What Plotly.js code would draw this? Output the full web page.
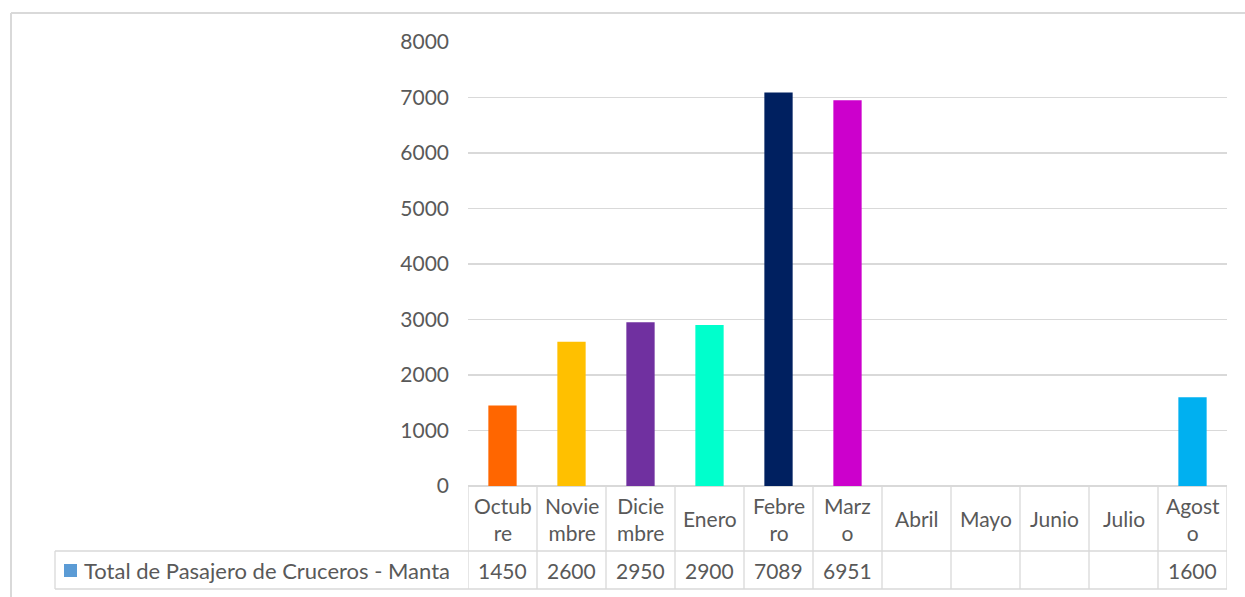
<!DOCTYPE html>
<html>
<head>
<meta charset="utf-8">
<script src="https://cdn.plot.ly/plotly-3.0.1.min.js"></script>
<style>html,body{margin:0;padding:0;background:#fff;}#chart{width:1245px;height:597px;}</style>
</head>
<body>
<div id="chart"></div>
<script>
const months = ["Octubre","Noviembre","Diciembre","Enero","Febrero","Marzo","Abril","Mayo","Junio","Julio","Agosto"];
const headerLabels = ["Octub<br>re","Novie<br>mbre","Dicie<br>mbre","Enero","Febre<br>ro","Marz<br>o","Abril","Mayo","Junio","Julio","Agost<br>o"];
const passengers = [1450, 2600, 2950, 2900, 7089, 6951, null, null, null, null, 1600];
const barColors = ["#FF6600","#FFC000","#7030A0","#00FFCC","#002060","#CC00CC","#5B9BD5","#5B9BD5","#5B9BD5","#5B9BD5","#00B0F0"];
const seriesName = "Total de Pasajero de Cruceros - Manta";
const yTicks = [0,1000,2000,3000,4000,5000,6000,7000,8000];

const FONT = "Lato, 'Open Sans', sans-serif";
const TXT = "#595959";
const LINE = "#d9d9d9";

// geometry (pixels) for the data table below plot
const L = 468, R = 18, T = 42, B = 111;
const W = 1245 - L - R, H = 597 - T - B;
const py = px => -(px - (597 - B)) / H;      // pixel y -> paper y
const pxx = px => (px - L) / W;             // pixel x -> paper x
const yHeadBot = py(551), yTabBot = py(589);
const xLegLeft = pxx(55);

const idx = months.map((m, i) => i);
const shapes = [];
// vertical column lines in the table
for (let i = 0; i <= months.length; i++) {
  shapes.push({type:"line", xref:"x", yref:"paper", x0:i-0.5, x1:i-0.5, y0:0, y1:yTabBot, line:{color:LINE, width:1.3}});
}
// horizontal table lines
shapes.push({type:"line", xref:"paper", yref:"paper", x0:xLegLeft, x1:1, y0:yHeadBot, y1:yHeadBot, line:{color:LINE, width:1.3}});
shapes.push({type:"line", xref:"paper", yref:"paper", x0:xLegLeft, x1:1, y0:yTabBot, y1:yTabBot, line:{color:LINE, width:1.3}});
shapes.push({type:"line", xref:"paper", yref:"paper", x0:xLegLeft, x1:xLegLeft, y0:yHeadBot, y1:yTabBot, line:{color:LINE, width:1.3}});
// outer chart border (top + left)
shapes.push({type:"line", xref:"paper", yref:"paper", x0:pxx(11), x1:pxx(1245), y0:py(13), y1:py(13), line:{color:LINE, width:2}});
shapes.push({type:"line", xref:"paper", yref:"paper", x0:pxx(11), x1:pxx(11), y0:py(13), y1:py(600), line:{color:LINE, width:2}});
// legend swatch
shapes.push({type:"rect", xref:"paper", yref:"paper", x0:pxx(64), x1:pxx(77), y0:py(577), y1:py(564), fillcolor:"#5B9BD5", line:{width:0}});

const annotations = [];
idx.forEach(i => {
  annotations.push({xref:"x", yref:"paper", x:i, y:(0 + yHeadBot)/2, text:headerLabels[i], showarrow:false,
    font:{family:FONT, size:21, color:TXT}, align:"center", yanchor:"middle", xanchor:"center"});
  if (passengers[i] !== null) {
    annotations.push({xref:"x", yref:"paper", x:i, y:(yHeadBot + yTabBot)/2, text:String(passengers[i]), showarrow:false,
      font:{family:FONT, size:21, color:TXT}, yanchor:"middle", xanchor:"center"});
  }
});
annotations.push({xref:"paper", yref:"paper", x:pxx(82), y:(yHeadBot + yTabBot)/2, text:seriesName, showarrow:false,
  font:{family:FONT, size:22, color:TXT}, xanchor:"left", yanchor:"middle"});

const trace = {
  type:"bar", x:idx, y:passengers, name:seriesName,
  marker:{color:barColors}, hoverinfo:"x+y"
};

const layout = {
  width:1245, height:597,
  margin:{l:L, r:R, t:T, b:B},
  paper_bgcolor:"#fff", plot_bgcolor:"#fff",
  showlegend:false,
  bargap:0.59,
  xaxis:{range:[-0.5, months.length-0.5], showticklabels:false, showgrid:false, zeroline:false,
    showline:false, ticks:"", fixedrange:true},
  yaxis:{range:[0,8000], tickvals:yTicks, ticktext:yTicks.map(String), showgrid:true, gridcolor:LINE, gridwidth:1.3,
    zeroline:true, zerolinecolor:LINE, zerolinewidth:1.3, showline:false, ticks:"",
    tickfont:{family:FONT, size:21, color:TXT}, ticklabelstandoff:18},
  shapes, annotations,
  font:{family:FONT, color:TXT}
};

Plotly.newPlot("chart", [trace], layout, {displayModeBar:false, staticPlot:true});
</script>
</body>
</html>
